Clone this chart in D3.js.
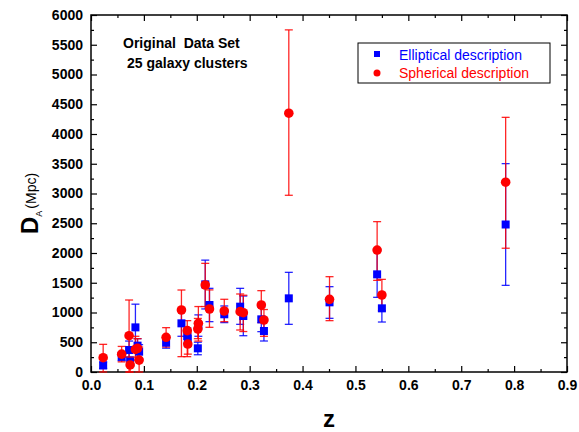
<!DOCTYPE html>
<html>
<head>
<meta charset="utf-8">
<script src="https://cdn.jsdelivr.net/npm/d3@7"></script>
<style>
  body { margin: 0; background: #fff; }
  svg { display: block; font-family: "Liberation Sans", Arial, sans-serif; }
</style>
</head>
<body>
<div id="chart"></div>
<script>
// redshift of each cluster
var zs = [0.023, 0.058, 0.072, 0.074, 0.084, 0.088, 0.091, 0.142, 0.171, 0.182,
          0.183, 0.202, 0.203, 0.216, 0.224, 0.252, 0.282, 0.288, 0.322, 0.327,
          0.374, 0.451, 0.541, 0.550, 0.784];
// elliptical description D_A (Mpc) and error bar ends
var ellD  = [110, 257, 370, 173, 750, 443, 341, 493, 818, 605,
             560, 398, 780, 1473, 1126, 970, 1098, 941, 885, 689,
             1238, 1171, 1641, 1070, 2479];
var ellLo = [60, 190, 250, 100, 380, 330, 230, 400, 600, 480,
             430, 290, 600, 1060, 846, 830, 801, 610, 678, 521,
             801, 902, 1255, 840, 1456];
var ellHi = [170, 330, 520, 250, 1140, 560, 460, 600, 1030, 740,
             700, 500, 960, 1880, 1406, 1110, 1406, 1277, 1090, 860,
             1675, 1434, 2030, 1320, 3502];
// spherical description
var sphD  = [240, 300, 610, 118, 380, 398, 200, 583, 1042, 695,
             470, 723, 818, 1462, 1059, 1025, 1014, 997, 1126, 874,
             4350, 1221, 2050, 1294, 3190];
var sphLo = [0, 170, 0, 0, 200, 250, 0, 420, 258, 258,
             300, 560, 520, 1100, 751, 846, 706, 680, 830, 600,
             2970, 863, 1540, 1031, 2080];
var sphHi = [465, 430, 1210, 250, 600, 560, 420, 745, 1378, 863,
             640, 900, 1100, 1826, 1380, 1222, 1311, 1290, 1367, 1050,
             5750, 1602, 2527, 1557, 4280];

var xTicks = d3.range(0, 0.91, 0.1);
var yTicks = d3.range(0, 6001, 500);
var minorX = d3.range(0.05, 0.9, 0.1);
var minorY = d3.range(250, 6000, 500);

var W = 579, H = 432;
var pLeft = 91, pRight = 567, pTop = 15, pBottom = 372;

var svg = d3.select("#chart").append("svg")
  .attr("width", W).attr("height", H);

var x = d3.scaleLinear().domain([0, 0.9]).range([pLeft, pRight]);
var y = d3.scaleLinear().domain([0, 6000]).range([pBottom, pTop]);

// axes, ticks pointing inward
function styleAxis(g) {
  g.select(".domain").remove();
  g.selectAll(".tick line").attr("stroke", "#000").attr("stroke-width", 1.2);
  g.selectAll("text").attr("fill", "#000").style("font-size", "14px").style("font-weight", "bold");
}

svg.append("g").attr("transform", "translate(0," + pBottom + ")")
  .call(d3.axisBottom(x).tickValues(xTicks).tickSize(-6).tickPadding(8).tickFormat(d3.format(".1f")))
  .call(styleAxis);
svg.append("g").attr("transform", "translate(0," + pBottom + ")")
  .call(d3.axisBottom(x).tickValues(minorX).tickSize(-3).tickFormat(""))
  .call(styleAxis);
svg.append("g").attr("transform", "translate(0," + pTop + ")")
  .call(d3.axisTop(x).tickValues(xTicks).tickSize(-6).tickFormat(""))
  .call(styleAxis);
svg.append("g").attr("transform", "translate(0," + pTop + ")")
  .call(d3.axisTop(x).tickValues(minorX).tickSize(-3).tickFormat(""))
  .call(styleAxis);

svg.append("g").attr("transform", "translate(" + pLeft + ",0)")
  .call(d3.axisLeft(y).tickValues(yTicks).tickSize(-6).tickPadding(8).tickFormat(d3.format("d")))
  .call(styleAxis);
svg.append("g").attr("transform", "translate(" + pLeft + ",0)")
  .call(d3.axisLeft(y).tickValues(minorY).tickSize(-3).tickFormat(""))
  .call(styleAxis);
svg.append("g").attr("transform", "translate(" + pRight + ",0)")
  .call(d3.axisRight(y).tickValues(yTicks).tickSize(-6).tickFormat(""))
  .call(styleAxis);
svg.append("g").attr("transform", "translate(" + pRight + ",0)")
  .call(d3.axisRight(y).tickValues(minorY).tickSize(-3).tickFormat(""))
  .call(styleAxis);

svg.append("rect")
  .attr("x", pLeft).attr("y", pTop)
  .attr("width", pRight - pLeft).attr("height", pBottom - pTop)
  .attr("fill", "none").attr("stroke", "#000").attr("stroke-width", 1.5);

// error bars
var cap = 4;
function errorBars(lo, hi, color) {
  var g = svg.append("g").attr("stroke", color).attr("stroke-width", 1.3).attr("stroke-opacity", 0.85);
  zs.forEach(function(z, i) {
    g.append("line").attr("x1", x(z)).attr("x2", x(z)).attr("y1", y(lo[i])).attr("y2", y(hi[i]));
    g.append("line").attr("x1", x(z) - cap).attr("x2", x(z) + cap).attr("y1", y(lo[i])).attr("y2", y(lo[i]));
    g.append("line").attr("x1", x(z) - cap).attr("x2", x(z) + cap).attr("y1", y(hi[i])).attr("y2", y(hi[i]));
  });
}
errorBars(ellLo, ellHi, "#0000ff");
errorBars(sphLo, sphHi, "#ff0000");

var sq = 8;
svg.append("g").selectAll("rect")
  .data(zs).enter().append("rect")
  .attr("x", function(d) { return x(d) - sq / 2; })
  .attr("y", function(d, i) { return y(ellD[i]) - sq / 2; })
  .attr("width", sq).attr("height", sq)
  .attr("fill", "#0000ff");

svg.append("g").selectAll("circle")
  .data(zs).enter().append("circle")
  .attr("cx", function(d) { return x(d); })
  .attr("cy", function(d, i) { return y(sphD[i]); })
  .attr("r", 4.8)
  .attr("fill", "#ff0000");

// legend
var lg = svg.append("g");
lg.append("rect").attr("x", 358).attr("y", 43).attr("width", 192).attr("height", 40)
  .attr("fill", "#fff").attr("stroke", "#000").attr("stroke-width", 1);
lg.append("rect").attr("x", 374).attr("y", 51).attr("width", 6).attr("height", 6).attr("fill", "#0000ff");
lg.append("circle").attr("cx", 377).attr("cy", 73).attr("r", 3.5).attr("fill", "#ff0000");
lg.append("text").attr("x", 399).attr("y", 60).attr("fill", "#0000ff")
  .style("font-size", "14px").text("Elliptical description");
lg.append("text").attr("x", 399).attr("y", 78).attr("fill", "#ff0000")
  .style("font-size", "14px").text("Spherical description");

// annotation
svg.append("text").attr("x", 123).attr("y", 48)
  .style("font-size", "14px").style("font-weight", "bold").style("white-space", "pre")
  .text("Original  Data Set");
svg.append("text").attr("x", 127).attr("y", 68)
  .style("font-size", "14px").style("font-weight", "bold")
  .text("25 galaxy clusters");

// axis titles
svg.append("text").attr("x", (pLeft + pRight) / 2).attr("y", 427)
  .attr("text-anchor", "middle")
  .style("font-size", "24px").style("font-weight", "bold").text("z");

var yt = svg.append("text")
  .attr("transform", "translate(38,234) rotate(-90)");
yt.append("tspan").style("font-size", "24px").style("font-weight", "bold").text("D");
yt.append("tspan").attr("dy", 4).style("font-size", "9px").text("A");
yt.append("tspan").attr("dy", -6).attr("dx", 2).style("font-size", "14px").text("(Mpc)");
</script>
</body>
</html>
